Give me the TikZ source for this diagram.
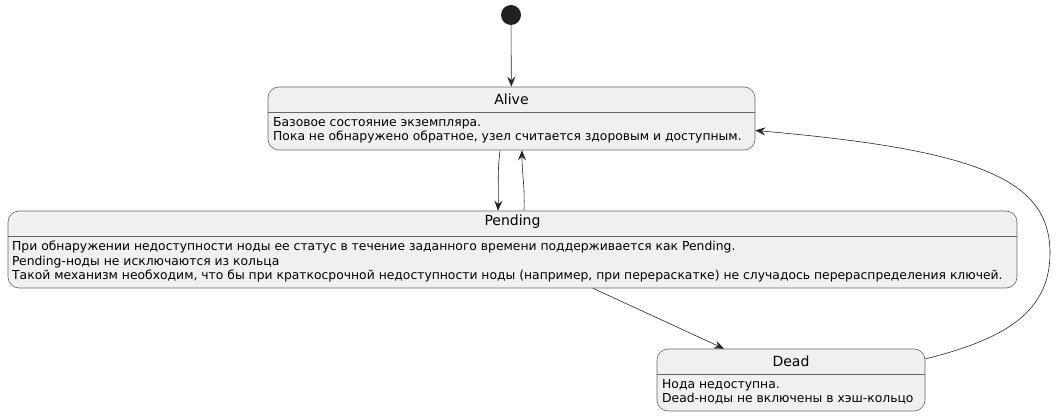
\documentclass[tikz,border=0pt]{standalone}
\usepackage{fontspec}
\setmainfont{DejaVu Sans}
\usetikzlibrary{positioning, arrows.meta}

\tikzset{
	statebox/.style={draw=black!60, fill=black!6, rounded corners=11pt,
		line width=0.6pt, inner sep=0pt},
	headline/.style={draw=black!60, line width=0.6pt},
	title/.style={font=\fontsize{14}{16}\selectfont},
	body/.style={font=\fontsize{12.35}{14.6}\selectfont, align=left,
		anchor=north west, inner sep=0pt},
	trans/.style={-{Stealth[length=10pt, width=8pt, inset=3.5pt]},
		line width=0.6pt, black!85}
}

\begin{document}
\begin{tikzpicture}[x=1pt, y=-1pt]

	\useasboundingbox (0,0) rectangle (1061,417);

	% start point
	\node[circle, fill=black!87, minimum size=20pt, inner sep=0pt] (start) at (511,15) {};

	% Alive
	\node[statebox, minimum width=487pt, minimum height=63pt] (alive) at (511.5,118.5) {};
	\draw[headline] (alive.west |- 0,112) -- (alive.east |- 0,112);
	\node[title] (alive-t) at (511.5,99) {Alive};
	\node[body] (alive-b) at (273,117) {Базовое состояние экземпляра.\\
		Пока не обнаружено обратное, узел считается здоровым и доступным.};

	% Pending
	\node[statebox, minimum width=1009pt, minimum height=77pt] (pending) at (512.5,249.5) {};
	\draw[headline] (pending.west |- 0,236) -- (pending.east |- 0,236);
	\node[title] (pending-t) at (512.5,222) {Pending};
	\node[body] (pending-b) at (12,241) {При обнаружении недоступности ноды ее статус в течение заданного времени поддерживается как Pending.\\
		Pending-ноды не исключаются из кольца\\
		Такой механизм необходим, что бы при краткосрочной недоступности ноды (например, при перераскатке) не случадось перераспределения ключей.};

	% Dead
	\node[statebox, minimum width=268pt, minimum height=62pt] (dead) at (791,380) {};
	\draw[headline] (dead.west |- 0,374) -- (dead.east |- 0,374);
	\node[title] (dead-t) at (791,361) {Dead};
	\node[body] (dead-b) at (662,379) {Нода недоступна.\\
		Dead-ноды не включены в хэш-кольцо};

	% transitions
	\draw[trans] (start) -- (alive);
	\draw[trans] ([xshift=-11.5pt]alive.south) .. controls +(-3,25) and +(1,-25) ..
		([xshift=-14.5pt]pending.north);
	\draw[trans] ([xshift=11.5pt]pending.north) .. controls +(1,-25) and +(0,25) ..
		([xshift=10.5pt]alive.south);
	\draw[trans] ([xshift=80.5pt]pending.south) -- ([xshift=-67pt]dead.north);
	\draw[trans] ([yshift=21pt]dead.east) .. controls (1000,340) and (1050,315) ..
		(1050,253) .. controls (1050,180) and (980,150) .. ([yshift=-12pt]alive.east);

\end{tikzpicture}
\end{document}
